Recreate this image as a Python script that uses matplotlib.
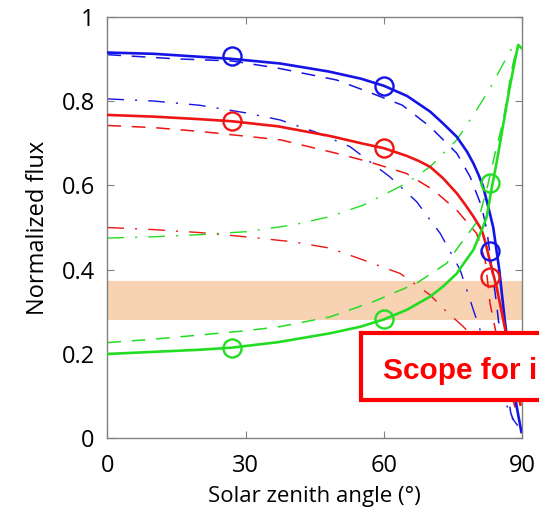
import numpy as np
import matplotlib
matplotlib.use("Agg")
import matplotlib.pyplot as plt
from matplotlib.patches import Rectangle

plt.rcParams["font.family"] = ["Open Sans", "DejaVu Sans"]

BLUE = "#1414e6"
RED = "#ee1515"
GREEN = "#22dd22"

# blue: solid / dashed / dash-dot
blue_x = [0, 10, 20, 27, 37.5, 48, 55, 60, 65, 70, 72.8, 75.8, 78, 79.4, 80.5, 81.5, 82.6, 83.7, 85, 86.2, 87.5, 88.7, 89.8]
blue_y = [0.915, 0.912, 0.905, 0.900, 0.889, 0.870, 0.853, 0.836, 0.812, 0.775, 0.747, 0.715, 0.68, 0.652, 0.625, 0.597, 0.55, 0.50, 0.40, 0.28, 0.17, 0.08, 0.015]
blue_dash_x = [0, 15, 27, 37, 49.7, 57, 64, 70, 75.8, 78.7, 81.2, 82.3, 84.4, 86, 87.5, 88.5]
blue_dash_y = [0.91, 0.90, 0.895, 0.878, 0.85, 0.82, 0.79, 0.739, 0.676, 0.62, 0.549, 0.494, 0.32, 0.17, 0.06, 0.03]
blue_dd_x = [0, 10, 20, 30, 37.5, 45, 52.6, 61.3, 67.1, 70, 72.2, 76.5, 79.4, 82, 85, 87.7, 89]
blue_dd_y = [0.805, 0.80, 0.79, 0.772, 0.755, 0.727, 0.692, 0.62, 0.561, 0.518, 0.486, 0.40, 0.304, 0.22, 0.12, 0.05, 0.03]

# red
red_x = [0, 10, 20, 27, 37, 48.3, 55, 60, 64.9, 67.5, 70, 72.8, 75.8, 77.5, 79.4, 80.3, 81.2, 82, 83.2, 84.4, 85.9, 87.5, 89, 89.6]
red_y = [0.767, 0.763, 0.757, 0.752, 0.740, 0.717, 0.70, 0.688, 0.670, 0.658, 0.644, 0.617, 0.581, 0.556, 0.526, 0.51, 0.494, 0.465, 0.41, 0.36, 0.28, 0.19, 0.11, 0.08]
red_dash_x = [0, 10, 20, 27, 37.5, 49.7, 57, 64.9, 70.7, 75.8, 80.1, 82, 83, 84.5, 86.5, 88.5]
red_dash_y = [0.742, 0.737, 0.728, 0.72, 0.708, 0.676, 0.655, 0.628, 0.589, 0.541, 0.486, 0.42, 0.32, 0.24, 0.15, 0.07]
red_dd_x = [0, 10, 20, 30, 40.3, 48.3, 55.5, 63.5, 70, 73.6, 77.2, 81, 85, 88, 89.5]
red_dd_y = [0.5, 0.495, 0.488, 0.478, 0.466, 0.451, 0.423, 0.391, 0.34, 0.30, 0.265, 0.22, 0.15, 0.09, 0.06]

# green
green_x = [0, 10, 20, 27, 37, 48.3, 55, 60, 65, 70, 72.8, 75.8, 77.5, 79.4, 81.5, 82.3, 83.3, 84.4, 85.8, 87.3, 88.3, 89.1, 89.9]
green_y = [0.2, 0.205, 0.21, 0.215, 0.228, 0.249, 0.265, 0.282, 0.305, 0.336, 0.36, 0.391, 0.418, 0.447, 0.502, 0.526, 0.59, 0.652, 0.74, 0.834, 0.89, 0.933, 0.925]
green_dash_x = [0, 10, 20, 30, 37.5, 48.3, 57.7, 67.1, 73.6, 77.2, 80.5, 82.5, 84.1, 85.9, 87.7, 88.8, 89.5]
green_dash_y = [0.227, 0.235, 0.245, 0.255, 0.265, 0.288, 0.324, 0.368, 0.415, 0.47, 0.518, 0.6, 0.676, 0.755, 0.874, 0.926, 0.93]
green_dd_x = [0, 10, 20, 30, 40.3, 48.3, 55.5, 64.9, 70, 75.8, 80.1, 83, 85.9, 88]
green_dd_y = [0.475, 0.478, 0.483, 0.49, 0.506, 0.526, 0.553, 0.605, 0.644, 0.708, 0.779, 0.83, 0.889, 0.93]

# open circle markers
blue_pts = ([27, 60, 83], [0.907, 0.836, 0.445])
red_pts = ([27, 60, 83], [0.753, 0.688, 0.382])
green_pts = ([27, 60, 83], [0.215, 0.282, 0.605])

band = (0.28, 0.373)

W, H = 539, 512
fig = plt.figure(figsize=(W / 100, H / 100), dpi=100)
ax = fig.add_axes([107.3 / W, 1 - 438.3 / H, 415 / W, 421.6 / H])

ax.axhspan(band[0], band[1], color="#f7d2b3", lw=0, zorder=0)

DASH = (9, 7)
DASHDOT = (12, 8, 1.5, 8)
for col, sx, sy, dx, dy, ddx, ddy, pts in [
    (BLUE, blue_x, blue_y, blue_dash_x, blue_dash_y, blue_dd_x, blue_dd_y, blue_pts),
    (RED, red_x, red_y, red_dash_x, red_dash_y, red_dd_x, red_dd_y, red_pts),
    (GREEN, green_x, green_y, green_dash_x, green_dash_y, green_dd_x, green_dd_y, green_pts),
]:
    ax.plot(ddx, ddy, color=col, lw=1.0, dashes=DASHDOT, zorder=2)
    ax.plot(dx, dy, color=col, lw=1.1, dashes=DASH, zorder=2)
    ax.plot(sx, sy, color=col, lw=1.9, zorder=3)
    ax.plot(pts[0], pts[1], ls="none", marker="o", ms=13, mfc="none",
            mec=col, mew=1.7, zorder=4)

ax.set_xlim(0, 90)
ax.set_ylim(0, 1)
ax.set_xticks([0, 30, 60, 90])
ax.set_yticks([0, 0.2, 0.4, 0.6, 0.8, 1])
ax.set_yticklabels(["0", "0.2", "0.4", "0.6", "0.8", "1"])
ax.tick_params(direction="in", length=5, width=0.8, color="#808080",
               top=True, right=True, labelsize=17, pad=9)
ax.tick_params(axis="x", pad=11)
for s in ax.spines.values():
    s.set_color("#808080")
    s.set_linewidth(1.0)
ax.set_xlabel("Solar zenith angle (°)", fontsize=16, labelpad=6)
ax.set_ylabel("Normalized flux", fontsize=17, labelpad=8)

# red callout box, runs off the right edge of the figure
box = Rectangle((361 / W, 1 - 400 / H), 0.4, 67 / H, transform=fig.transFigure,
                facecolor="white", edgecolor="#ff0000", lw=3, zorder=10,
                clip_on=False)
fig.patches.append(box)
fig.text(383 / W, 1 - 379 / H, "Scope for i", color="#ff0000", fontsize=21.5,
         fontweight="bold", family=["Liberation Sans", "DejaVu Sans"],
         va="baseline", ha="left", zorder=11)

fig.savefig("out.png", dpi=100)
